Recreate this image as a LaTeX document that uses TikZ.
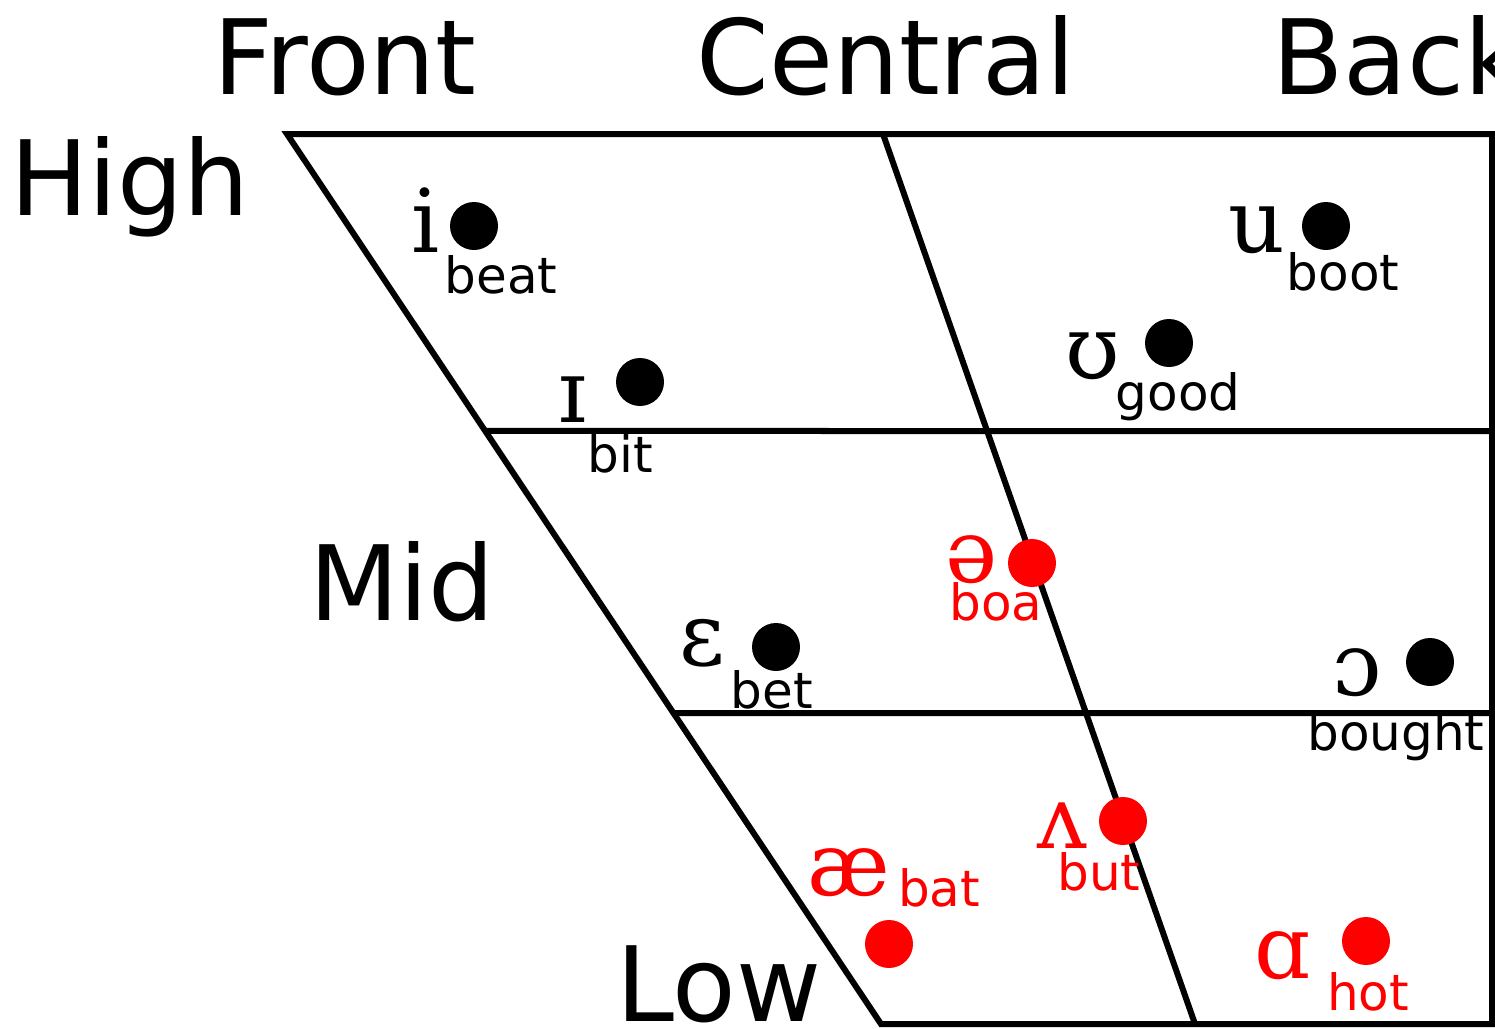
\documentclass[tikz,border=0pt]{standalone}
\usepackage{fontspec}
\setmainfont{DejaVu Sans}
\newfontfamily\ipafont{DejaVu Serif}
\usetikzlibrary{calc}
\definecolor{vred}{RGB}{255,0,0}
\begin{document}
\begin{tikzpicture}[x=1pt,y=-1pt,
  frame/.style={line width=6pt, line join=miter},
  big/.style={inner sep=0pt, anchor=base, font=\fontsize{104}{104}\selectfont},
  word/.style={inner sep=0pt, anchor=base, font=\fontsize{50}{50}\selectfont},
  sym/.style={inner sep=0pt, anchor=base, font=\ipafont\fontsize{88}{88}\selectfont},
  vdot/.style={circle, fill, inner sep=0pt, minimum size=48pt},
  hitext/.style={text=vred},
  hidot/.style={fill=vred}]
\useasboundingbox (0,0) rectangle (1495,1028);
\clip (0,0) rectangle (1495,1028);
% frame corners
\coordinate (tl) at (287,134);
\coordinate (tr) at (1492,134);
\coordinate (br) at (1492,1024);
\coordinate (bl) at (881,1024);
\coordinate (tc) at (883,134);
\coordinate (bc) at (1195,1024);
\coordinate (m1l) at ($(tl)!0.3337!(bl)$);
\coordinate (m1r) at (1492,431);
\coordinate (m2l) at ($(tl)!0.6506!(bl)$);
\coordinate (m2r) at (1492,713);
\draw[frame] (tl) -- (tr) -- (br) -- (bl) -- cycle;
\draw[frame] (tc) -- (bc);
\draw[frame] (m1l) -- (m1r);
\draw[frame] (m2l) -- (m2r);
% axis labels
\node[big] (front) at (345,94) {Front};
\node[big] (central) at (886,94) {Central};
\node[big, anchor=base west] (back) at (1272,94) {Back};
\node[big] (high) at (130,215) {High};
\node[big] (mid) at (402,620) {Mid};
\node[big] (low) at (719,1021) {Low};
% vowels
\node[sym] (si) at (426,252) {i};
\node[vdot] (di) at (474,226) {};
\node[word] (wi) at (501,293) {beat};
\node[sym] (sI) at (573,422) {ɪ};
\node[vdot] (dI) at (640,382) {};
\node[word] (wI) at (620,472) {bit};
\node[sym] (su) at (1257,252) {u};
\node[vdot] (du) at (1326,226) {};
\node[word] (wu) at (1343,290) {boot};
\node[sym] (sU) at (1093,378) {ʊ};
\node[vdot] (dU) at (1169,343) {};
\node[word] (wU) at (1178,410) {good};
\node[sym] (sE) at (702,665) {ɛ};
\node[vdot] (dE) at (776,647) {};
\node[word] (wE) at (772,708) {bet};
\node[sym] (sO) at (1357,695) {ɔ};
\node[vdot] (dO) at (1430,662) {};
\node[word] (wO) at (1396,750) {bought};
\node[sym, hitext] (sschwa) at (972,582) {ə};
\node[vdot, hidot] (dschwa) at (1032,563) {};
\node[word, hitext] (wschwa) at (996,620) {boa};
\node[sym, hitext] (sV) at (1062,848) {ʌ};
\node[vdot, hidot] (dV) at (1123,821) {};
\node[word, hitext] (wV) at (1099,890) {but};
\node[sym, hitext] (sae) at (849,895) {æ};
\node[vdot, hidot] (dae) at (889,944) {};
\node[word, hitext] (wae) at (939,906) {bat};
\node[sym, hitext] (sA) at (1283,978) {ɑ};
\node[vdot, hidot] (dA) at (1366,941) {};
\node[word, hitext] (wA) at (1368,1010) {hot};
\end{tikzpicture}
\end{document}
